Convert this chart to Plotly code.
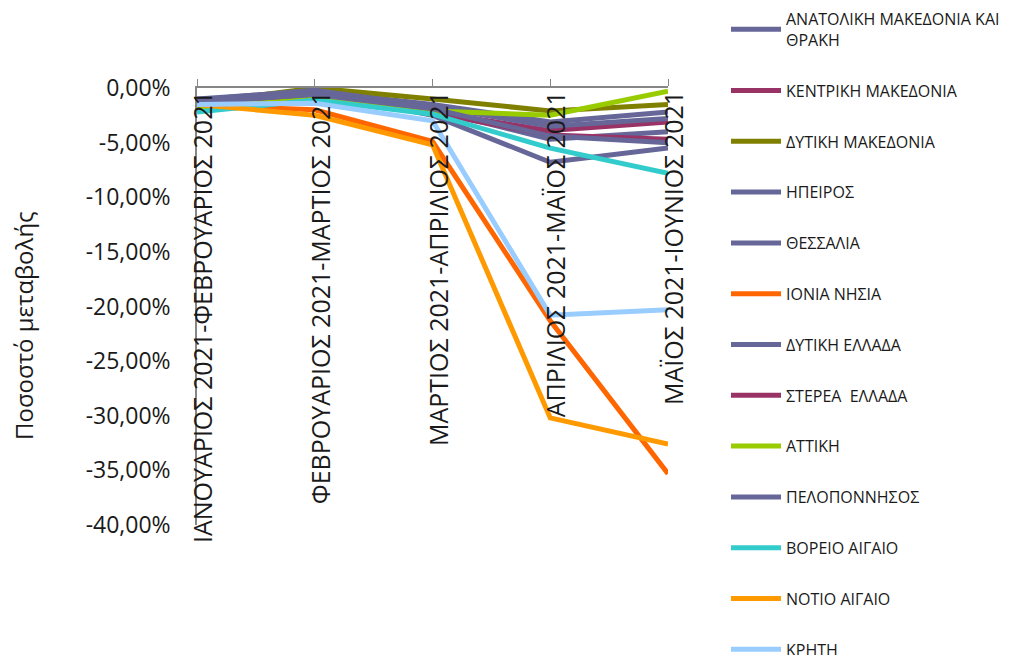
import plotly.graph_objects as go

categories = [
    "ΙΑΝΟΥΑΡΙΟΣ 2021-ΦΕΒΡΟΥΑΡΙΟΣ 2021",
    "ΦΕΒΡΟΥΑΡΙΟΣ 2021-ΜΑΡΤΙΟΣ 2021",
    "ΜΑΡΤΙΟΣ 2021-ΑΠΡΙΛΙΟΣ 2021",
    "ΑΠΡΙΛΙΟΣ 2021-ΜΑΪΟΣ 2021",
    "ΜΑΪΟΣ 2021-ΙΟΥΝΙΟΣ 2021",
]

regions = [
    "ΑΝΑΤΟΛΙΚΗ ΜΑΚΕΔΟΝΙΑ ΚΑΙ<br>ΘΡΑΚΗ",
    "ΚΕΝΤΡΙΚΗ ΜΑΚΕΔΟΝΙΑ",
    "ΔΥΤΙΚΗ ΜΑΚΕΔΟΝΙΑ",
    "ΗΠΕΙΡΟΣ",
    "ΘΕΣΣΑΛΙΑ",
    "ΙΟΝΙΑ ΝΗΣΙΑ",
    "ΔΥΤΙΚΗ ΕΛΛΑΔΑ",
    "ΣΤΕΡΕΑ  ΕΛΛΑΔΑ",
    "ΑΤΤΙΚΗ",
    "ΠΕΛΟΠΟΝΝΗΣΟΣ",
    "ΒΟΡΕΙΟ ΑΙΓΑΙΟ",
    "ΝΟΤΙΟ ΑΙΓΑΙΟ",
    "ΚΡΗΤΗ",
]

# percentage change values (in %)
anatoliki_makedonia = [-1.0, -0.3, -1.5, -3.1, -2.2]
kentriki_makedonia = [-1.3, -0.9, -2.2, -3.9, -3.1]
dytiki_makedonia = [-1.4, 0.0, -1.0, -2.1, -1.5]
ipeiros = [-1.1, -0.2, -1.7, -3.5, -2.8]
thessalia = [-1.2, -0.5, -2.0, -4.7, -4.0]
ionia_nisia = [-1.6, -2.0, -4.9, -21.3, -35.3]
dytiki_ellada = [-1.2, -0.4, -2.5, -6.8, -5.5]
sterea_ellada = [-1.4, -0.7, -2.3, -4.3, -4.7]
attiki = [-1.8, -1.0, -2.1, -2.5, -0.3]
peloponnisos = [-1.3, -0.6, -1.9, -4.4, -5.0]
voreio_aigaio = [-2.2, -1.1, -2.4, -5.5, -7.8]
notio_aigaio = [-1.5, -2.5, -5.2, -30.2, -32.6]
kriti = [-1.5, -1.4, -3.0, -20.8, -20.3]

series = [
    anatoliki_makedonia, kentriki_makedonia, dytiki_makedonia, ipeiros,
    thessalia, ionia_nisia, dytiki_ellada, sterea_ellada, attiki,
    peloponnisos, voreio_aigaio, notio_aigaio, kriti,
]

colors = [
    "#666699", "#993366", "#808000", "#666699", "#666699", "#FF6600",
    "#666699", "#993366", "#99CC00", "#666699", "#33CCCC", "#FF9900",
    "#99CCFF",
]

y_ticks = [0, -5, -10, -15, -20, -25, -30, -35, -40]
y_tick_text = ["0,00%", "-5,00%", "-10,00%", "-15,00%", "-20,00%",
               "-25,00%", "-30,00%", "-35,00%", "-40,00%"]

font_family = "Open Sans, Liberation Sans, sans-serif"
text_color = "#1a1a1a"

W, H = 1020, 655
plot_l, plot_r, plot_t, plot_b = 197, 668, 88, 525
pw, ph = plot_r - plot_l, plot_b - plot_t


def px_x(x):
    return (x - plot_l) / pw


def px_y(y):
    return (plot_b - y) / ph


fig = go.Figure()
for i, (name, vals, col) in enumerate(zip(regions, series, colors)):
    fig.add_trace(go.Scatter(
        x=categories, y=vals, mode="lines", name=name,
        line=dict(color=col, width=5),
        legendgroup=f"g{i}",
    ))

for cat in categories:
    fig.add_annotation(
        x=cat, y=0, xref="x", yref="y", text=cat, showarrow=False,
        textangle=-90, xanchor="center", yanchor="top", yshift=-1, xshift=5,
        font=dict(family=font_family, size=25, color=text_color),
    )

# y-axis title
fig.add_annotation(
    x=px_x(23), y=px_y(326), xref="paper", yref="paper",
    text="Ποσοστό μεταβολής", showarrow=False, textangle=-90,
    xanchor="center", yanchor="middle",
    font=dict(family=font_family, size=24, color=text_color),
)

fig.update_layout(
    width=W, height=H,
    margin=dict(l=plot_l, r=W - plot_r, t=plot_t, b=H - plot_b,
                autoexpand=False),
    paper_bgcolor="white", plot_bgcolor="white",
    font=dict(family=font_family, color=text_color),
    showlegend=True,
    legend=dict(
        x=px_x(726), y=px_y(2),
        xanchor="left", yanchor="top",
        font=dict(family=font_family, size=16, color=text_color),
        tracegroupgap=27, itemwidth=50, maxheight=900,
        bgcolor="rgba(0,0,0,0)",
    ),
    xaxis=dict(
        type="category", side="top", range=[0, 4],
        showline=True, linecolor="#868686", linewidth=1.5,
        ticks="outside", ticklen=7, tickcolor="#868686",
        showticklabels=False, showgrid=False, zeroline=False,
    ),
    yaxis=dict(
        range=[-40, 0], tickvals=y_ticks, ticktext=y_tick_text,
        showline=True, linecolor="#868686", linewidth=1.5,
        ticks="", showgrid=False, zeroline=False,
        tickfont=dict(family=font_family, size=23, color=text_color),
        ticklabelstandoff=20,
    ),
)

fig.write_html(
    "out.html",
    config={"displayModeBar": False},
    post_script="document.body.style.margin='0';document.body.style.overflow='hidden';",
)
